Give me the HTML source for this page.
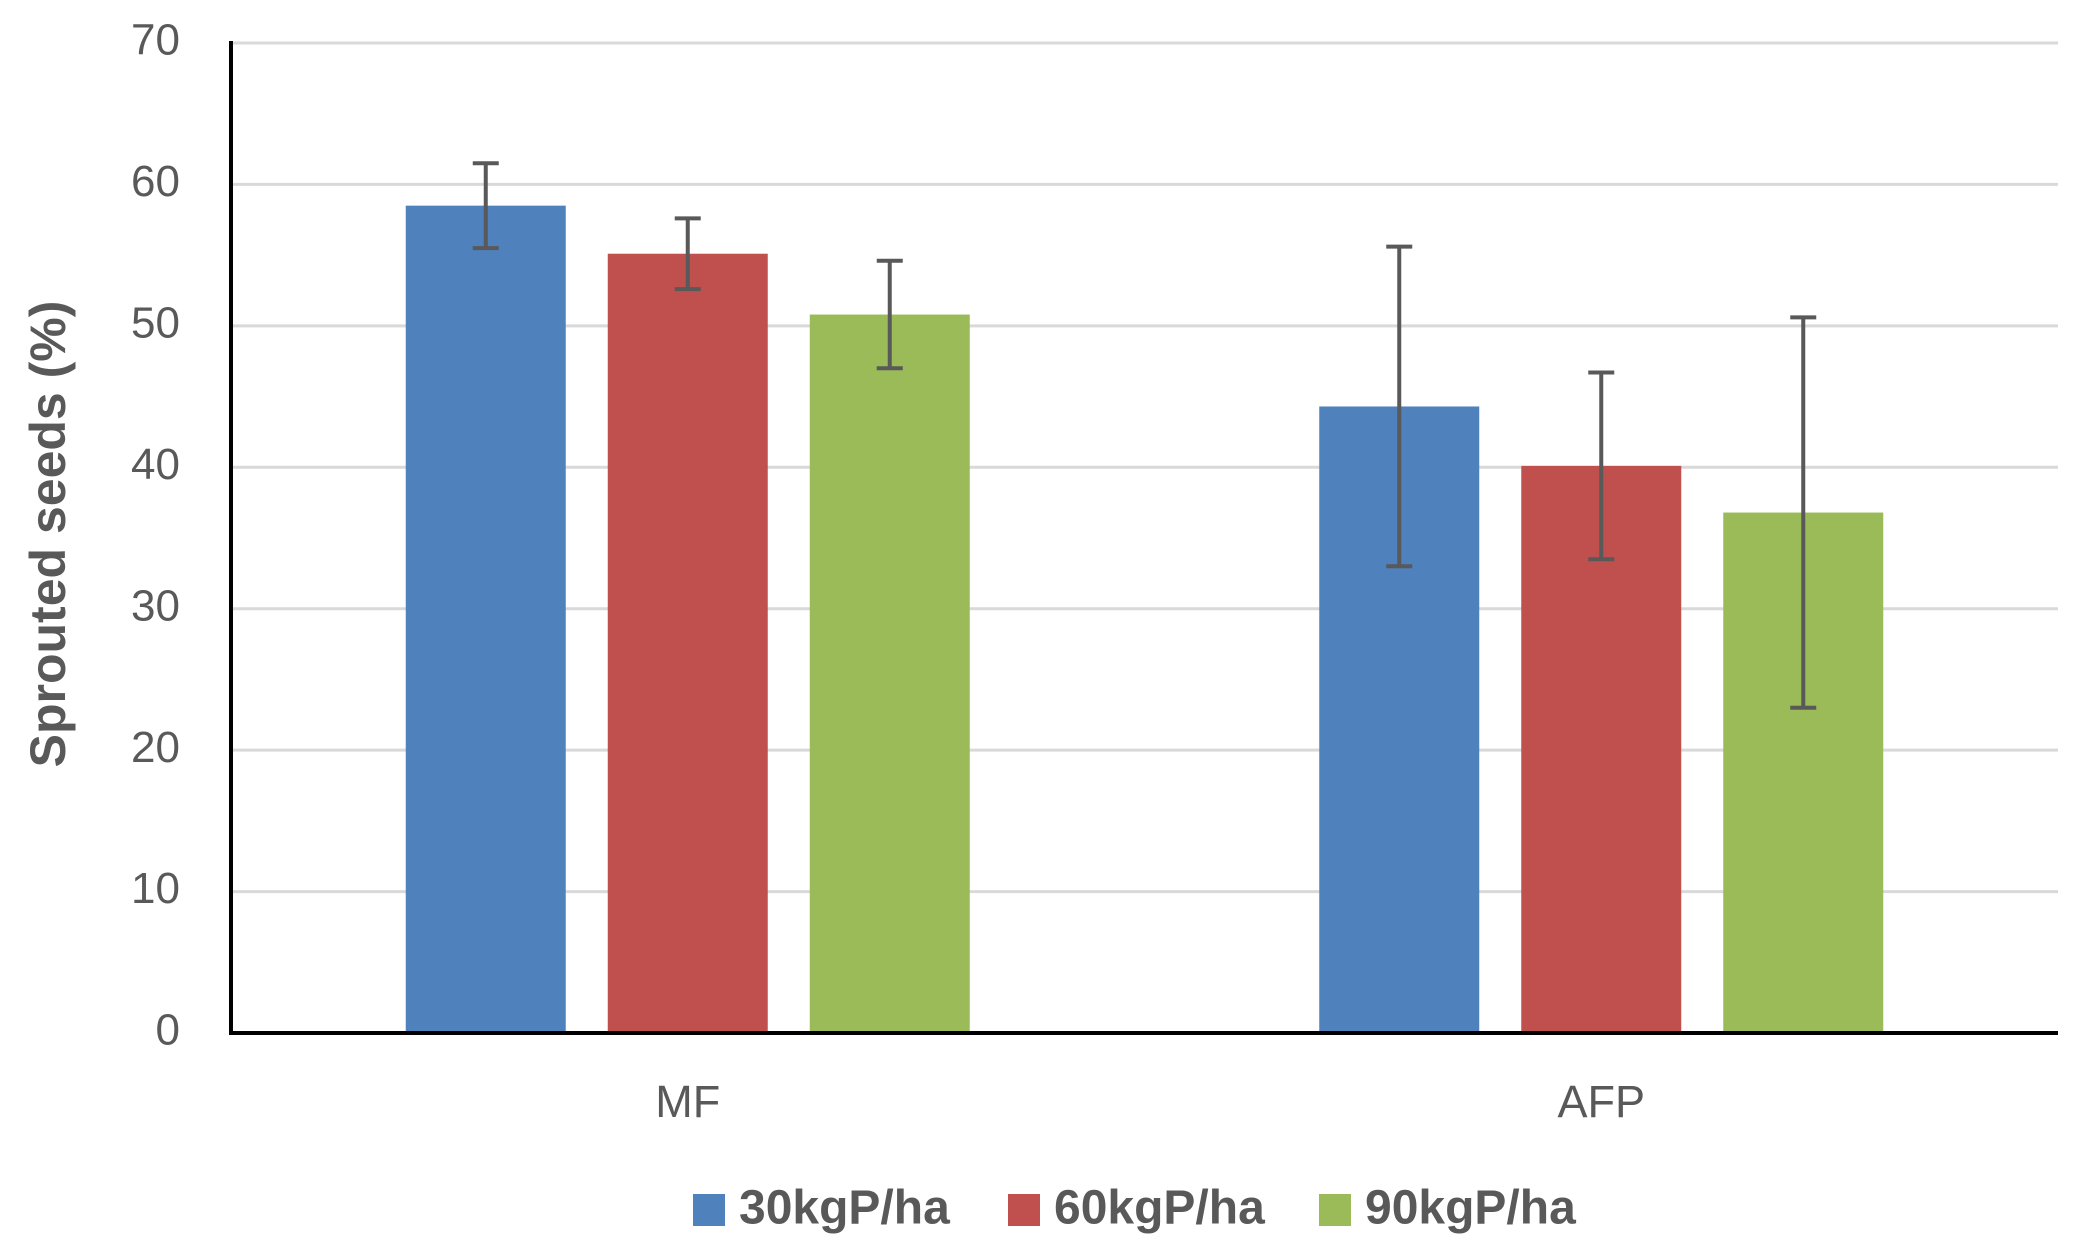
<!DOCTYPE html>
<html><head><meta charset="utf-8"><style>
html,body{margin:0;padding:0;background:#fff;}
svg{display:block;font-family:"Liberation Sans",sans-serif;}
</style></head><body>
<svg id="chart" width="2076" height="1246" viewBox="0 0 2076 1246">
<g id="grid"></g>
<g id="bars"></g>
<g id="errs"></g>
<g id="axes"></g>
<text transform="translate(52,534) rotate(-90)" text-anchor="middle" dominant-baseline="middle" font-size="50" font-weight="bold" fill="#595959">Sprouted seeds (%)</text>
<g id="legend"></g>
</svg>
<script>
const categories = ["MF", "AFP"];
const seriesNames = ["30kgP/ha", "60kgP/ha", "90kgP/ha"];
const s30 = [58.5, 44.3];
const s60 = [55.1, 40.1];
const s90 = [50.8, 36.8];
const e30 = [3.0, 11.3];
const e60 = [2.5, 6.6];
const e90 = [3.8, 13.8];
const yTicks = [0, 10, 20, 30, 40, 50, 60, 70];

const series = [s30, s60, s90];
const errs = [e30, e60, e90];
const colors = ["#4f81bd", "#c0504d", "#9bbb59"];
const NS = "http://www.w3.org/2000/svg";
const X0 = 231, X1 = 2058, Y0 = 1033, Y1 = 43, YMAX = 70;
function y(v){ return Y0 - (v / YMAX) * (Y0 - Y1); }
const catW = (X1 - X0) / categories.length;
function catCenter(i){ return X0 + catW * (i + 0.5); }
const barW = 160, step = 202;
function barX(ci, si){ return catCenter(ci) + (si - 1) * step - barW / 2; }
function mk(tag, attrs, parent){ const e = document.createElementNS(NS, tag); for (const k in attrs) e.setAttribute(k, attrs[k]); parent.appendChild(e); return e; }

const grid = document.getElementById('grid');
const axes = document.getElementById('axes');
yTicks.forEach(t => {
  if (t > 0) {
    const l = mk('line', {x1: X0, x2: X1, y1: y(t), y2: y(t), stroke: '#d9d9d9', 'stroke-width': 3}, grid);
    
    
  }
  const tx = mk('text', {x: 180, y: y(t), 'text-anchor': 'end', 'dominant-baseline': 'middle', 'font-size': 44, fill: '#595959'}, axes);
  tx.textContent = t;
  
  
});

const bars = document.getElementById('bars');
const eg = document.getElementById('errs');
series.forEach((s, si) => {
  s.forEach((v, ci) => {
    const bx = barX(ci, si);
    const r = mk('rect', {x: bx, y: y(v), width: barW, height: Y0 - y(v), fill: colors[si]}, bars);
    
    
    const cx = bx + barW / 2, e = errs[si][ci];
    const g = mk('g', {stroke: '#595959', 'stroke-width': 4}, eg);
    
    
    mk('line', {x1: cx, x2: cx, y1: y(v + e), y2: y(v - e)}, g);
    mk('line', {x1: cx - 13, x2: cx + 13, y1: y(v + e), y2: y(v + e)}, g);
    mk('line', {x1: cx - 13, x2: cx + 13, y1: y(v - e), y2: y(v - e)}, g);
  });
});

const ya = mk('line', {x1: X0, x2: X0, y1: Y1 - 2, y2: Y0 + 2, stroke: '#000', 'stroke-width': 4}, axes);


const xa = mk('line', {x1: X0 - 2, x2: X1, y1: Y0, y2: Y0, stroke: '#000', 'stroke-width': 4}, axes);


categories.forEach((c, ci) => {
  const t = mk('text', {x: catCenter(ci), y: 1105, 'text-anchor': 'middle', 'dominant-baseline': 'middle', 'font-size': 45, fill: '#595959'}, axes);
  t.textContent = c;
  
  
});

const lg = document.getElementById('legend');
const lx = [693, 1008, 1319];
seriesNames.forEach((n, i) => {
  const g = mk('g', {}, lg);
  
  
  mk('rect', {x: lx[i], y: 1194, width: 32, height: 32, fill: colors[i]}, g);
  const t = mk('text', {x: lx[i] + 46, y: 1211, 'dominant-baseline': 'middle', 'font-size': 48, 'font-weight': 'bold', fill: '#595959'}, g);
  t.textContent = n;
});
</script>
</body></html>
